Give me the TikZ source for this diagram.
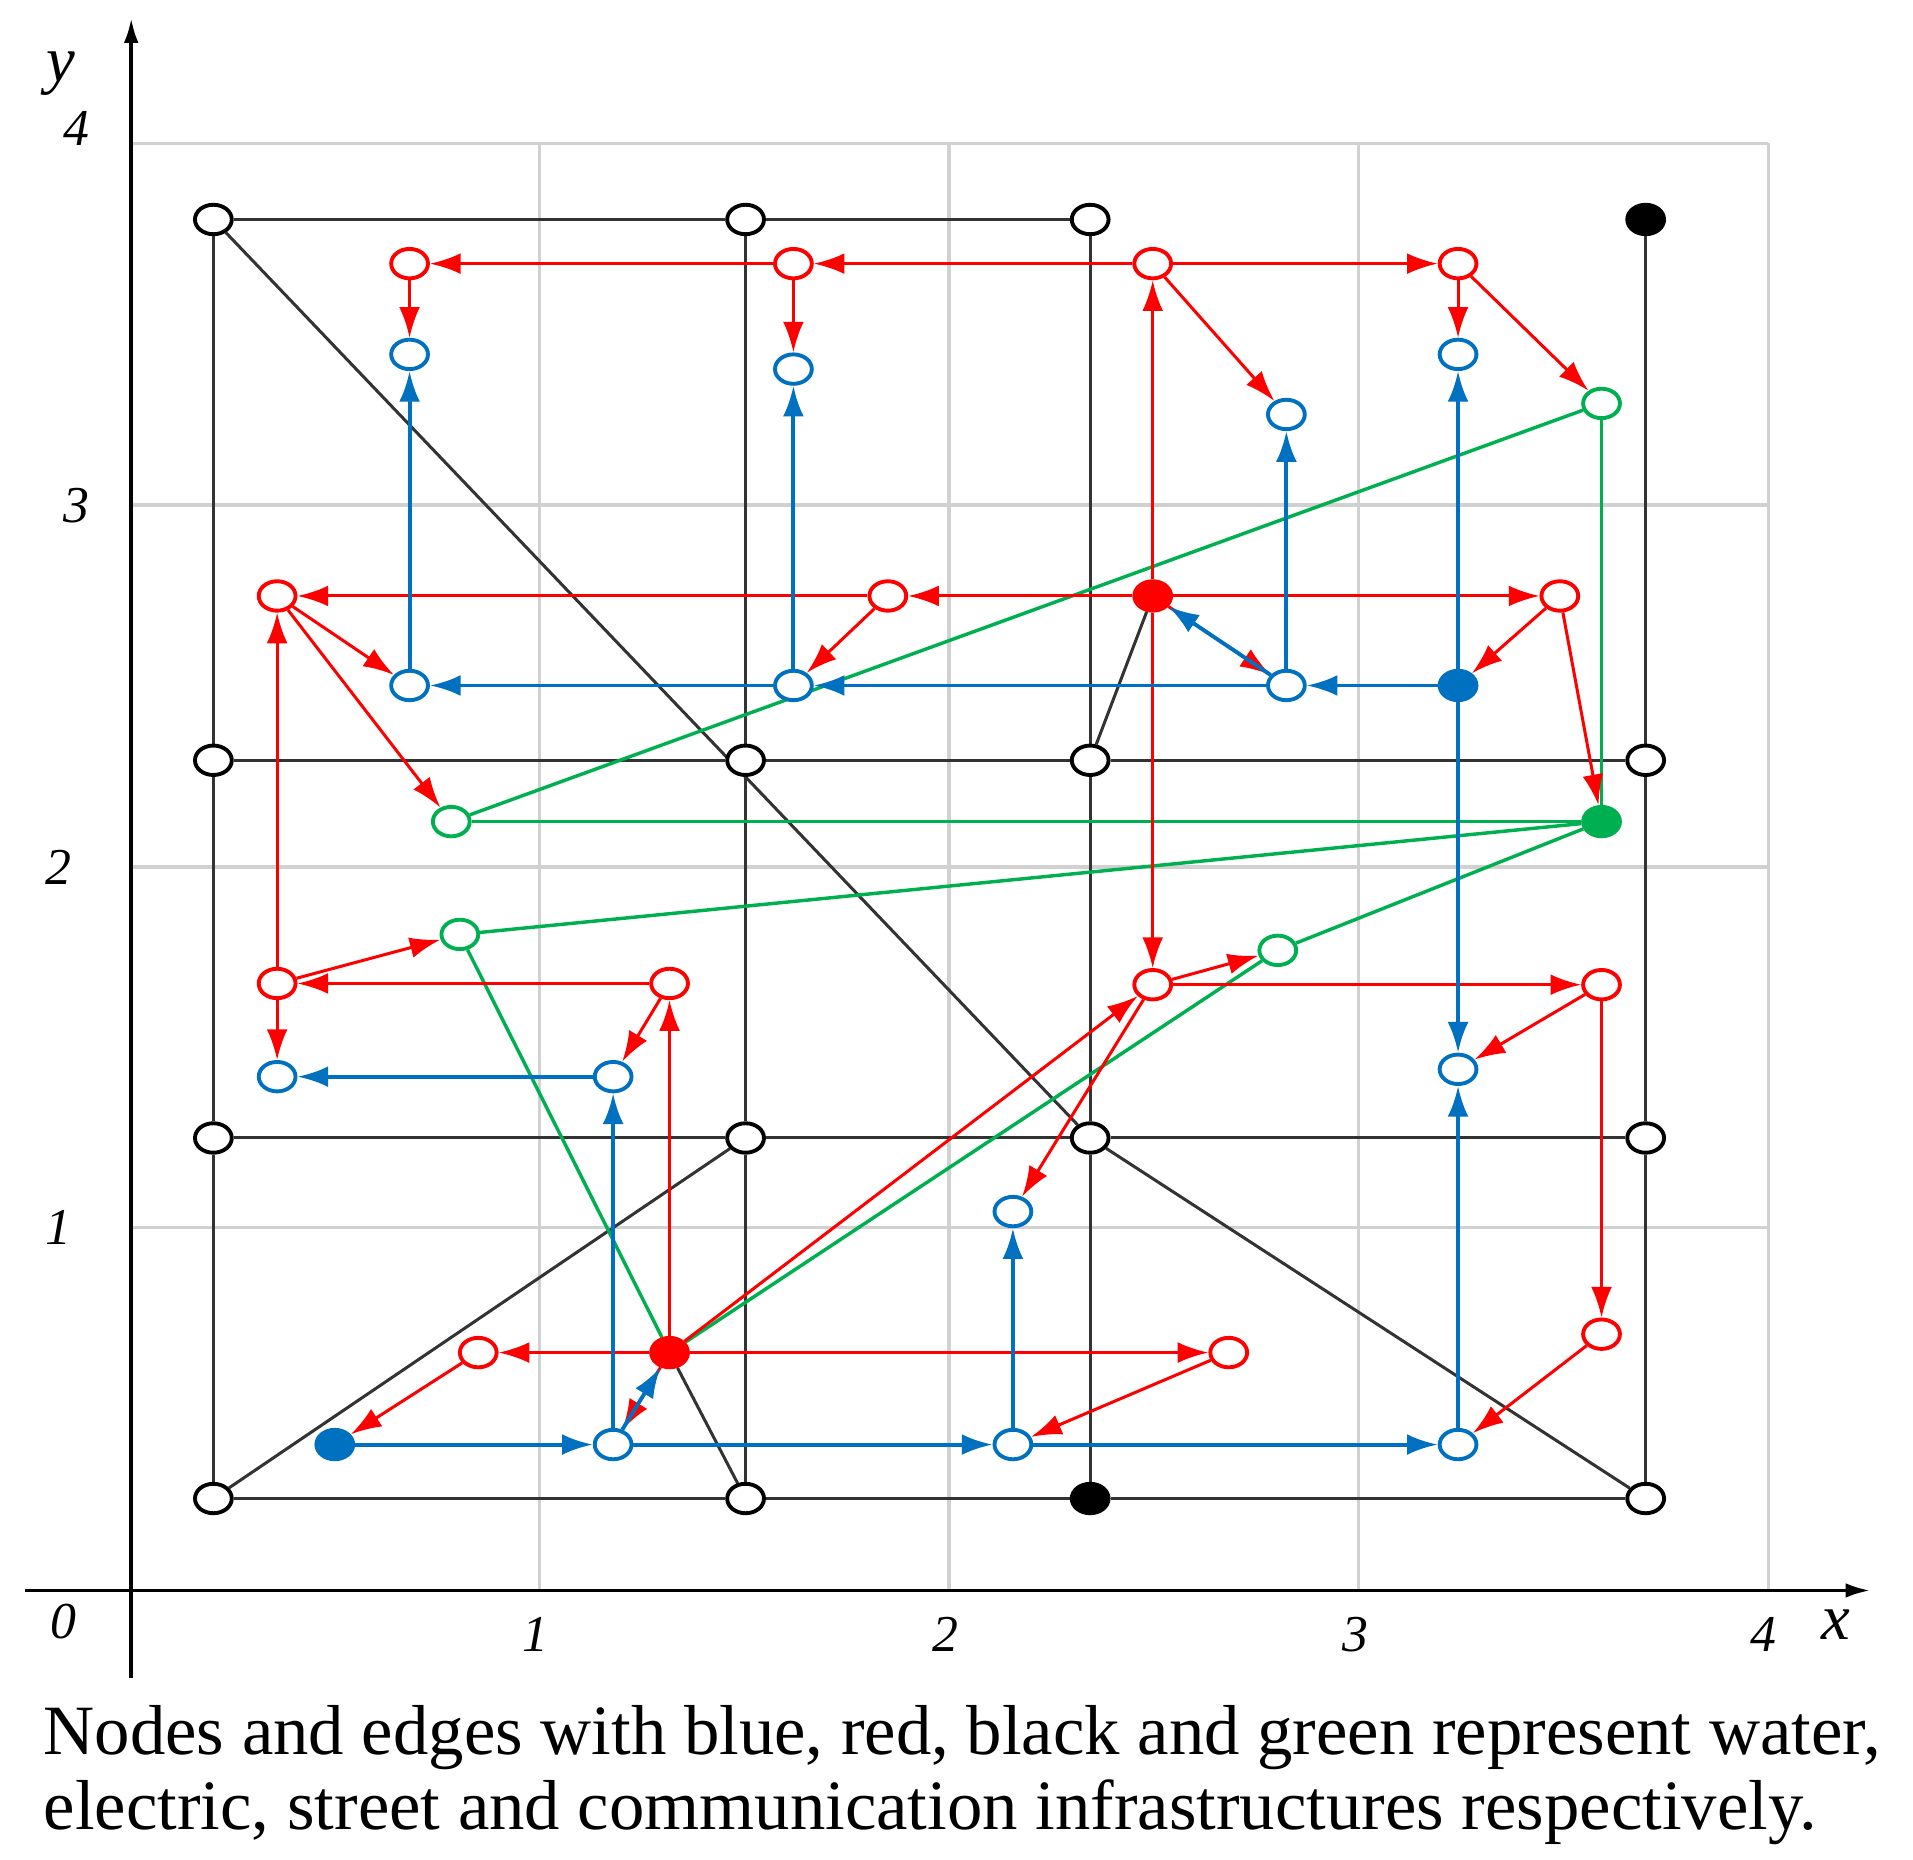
\documentclass[tikz,border=0pt]{standalone}
\usepackage{fontspec}
\setmainfont{Liberation Serif}
\usetikzlibrary{shapes.geometric,arrows.meta,backgrounds}
\begin{document}
\begin{tikzpicture}[x=0.01cm,y=-0.01cm,
 nd/.style={ellipse,draw,line width=0.9pt,fill=white,minimum width=0.3cm,minimum height=0.24cm,inner sep=0pt},
 kn/.style={nd,draw=black}, rn/.style={nd,draw=red}, bn/.style={nd,draw=wb}, gn/.style={nd,draw=gg},
 ke/.style={draw=black!80,line width=0.7pt},
 re/.style={draw=red,line width=0.7pt,-{Latex[length=0.25cm,width=0.17cm]}},
 be/.style={draw=wb,line width=0.9pt,-{Latex[length=0.25cm,width=0.17cm]}},
 ge/.style={draw=gg,line width=0.8pt},
 lab/.style={font=\itshape\fontsize{12}{12}\selectfont}]
\definecolor{wb}{RGB}{0,112,192}
\definecolor{gg}{RGB}{0,176,80}
\useasboundingbox (0,0) rectangle (1560,1516);
% axes
\coordinate (ya) at (107,1368); \coordinate (yb) at (107,15);
\coordinate (xa) at (20,1297); \coordinate (xb) at (1525,1297);
\node[lab] at (62,105) {4}; \node[lab] at (62,412) {3}; \node[lab] at (48,707) {2};
\node[lab] at (48,1001) {1}; \node[lab] at (52,1322) {0};
\node[lab] at (437,1333) {1}; \node[lab] at (771,1333) {2}; \node[lab] at (1105,1333) {3};
\node[lab] at (1438,1333) {4};
\node[lab,font=\itshape\fontsize{15}{15}\selectfont] at (1497,1325) {x};
\node[lab,font=\itshape\fontsize{15}{15}\selectfont] at (50,60) {y};
% street nodes
\node[kn] (k1) at (174,179) {}; \node[kn] (k2) at (608,179) {}; \node[kn] (k3) at (889,179) {};
\node[kn,fill=black] (k4) at (1342,179) {};
\node[kn] (k5) at (174,620) {}; \node[kn] (k6) at (608,620) {}; \node[kn] (k7) at (889,620) {}; \node[kn] (k8) at (1342,620) {};
\node[kn] (k9) at (174,928) {}; \node[kn] (k10) at (608,928) {}; \node[kn] (k11) at (889,928) {}; \node[kn] (k12) at (1342,928) {};
\node[kn] (k13) at (174,1222) {}; \node[kn] (k14) at (608,1222) {}; \node[kn,fill=black] (k15) at (889,1222) {}; \node[kn] (k16) at (1342,1222) {};
% red nodes
\node[rn] (r1) at (334,215) {}; \node[rn] (r2) at (647,215) {}; \node[rn] (r3) at (940,215) {}; \node[rn] (r4) at (1189,215) {};
\node[rn] (r5) at (226,486) {}; \node[rn] (r6) at (724,486) {}; \node[rn,fill=red] (r7) at (940,486) {}; \node[rn] (r8) at (1272,486) {};
\node[rn] (r9) at (226,802) {}; \node[rn] (r10) at (546,802) {}; \node[rn] (r11) at (940,803) {}; \node[rn] (r12) at (1306,803) {};
\node[rn] (r13) at (390,1103) {}; \node[rn,fill=red] (r14) at (546,1103) {}; \node[rn] (r15) at (1002,1103) {}; \node[rn] (r16) at (1306,1088) {};
% blue nodes
\node[bn] (b1) at (334,289) {}; \node[bn] (b2) at (647,301) {}; \node[bn] (b3) at (1049,338) {}; \node[bn] (b4) at (1189,289) {};
\node[bn] (b5) at (334,559) {}; \node[bn] (b6) at (647,559) {}; \node[bn] (b7) at (1049,559) {}; \node[bn,fill=wb] (b8) at (1189,559) {};
\node[bn] (b9) at (226,878) {}; \node[bn] (b10) at (500,878) {}; \node[bn] (b11) at (1189,872) {}; \node[bn] (b12) at (826,988) {};
\node[bn,fill=wb] (b0) at (273,1178) {}; \node[bn] (b13) at (500,1178) {}; \node[bn] (b14) at (826,1178) {}; \node[bn] (b15) at (1189,1178) {};
% green nodes
\node[gn] (g1) at (1306,329) {}; \node[gn] (g2) at (368,670) {}; \node[gn,fill=gg] (g3) at (1306,670) {};
\node[gn] (g4) at (375,762) {}; \node[gn] (g5) at (1042,775) {};
\begin{scope}[on background layer]
% grid
\foreach \x in {440,774,1108,1442} \draw[black!18,line width=0.8pt] (\x,117) -- (\x,1297);
\foreach \y in {117,412,707,1001} \draw[black!18,line width=0.8pt] (107,\y) -- (1442,\y);
\draw[line width=0.8pt,-{Latex[length=0.2cm,width=0.12cm]}] (ya) -- (yb);
\draw[line width=0.8pt,-{Latex[length=0.2cm,width=0.12cm]}] (xa) -- (xb);
% street edges
\draw[ke] (k1) -- (k2); \draw[ke] (k2) -- (k3);
\draw[ke] (k1) -- (k5) -- (k9) -- (k13);
\draw[ke] (k2) -- (k6) -- (k10) -- (k14);
\draw[ke] (k3) -- (k7) -- (k11) -- (k15);
\draw[ke] (k4) -- (k8) -- (k12) -- (k16);
\draw[ke] (k5) -- (k6) -- (k7) -- (k8);
\draw[ke] (k9) -- (k10) -- (k11) -- (k12);
\draw[ke] (k13) -- (k14) -- (k15) -- (k16);
\draw[ke] (k1) -- (k11); \draw[ke] (k11) -- (k16);
\draw[ke] (k13) -- (k10); \draw[ke] (k7) -- (r7); \draw[ke] (r14) -- (k14);
% green edges
\draw[ge] (g1) -- (g3); \draw[ge] (g1) -- (g2); \draw[ge] (g3) -- (g2);
\draw[ge] (g3) -- (g4); \draw[ge] (g3) -- (g5); \draw[ge] (g5) -- (r14); \draw[ge] (g4) -- (r14);
\end{scope}
% red edges
\draw[re] (r3) -- (r2); \draw[re] (r2) -- (r1); \draw[re] (r3) -- (r4);
\draw[re] (r1) -- (b1); \draw[re] (r2) -- (b2); \draw[re] (r4) -- (b4); \draw[re] (r3) -- (b3);
\draw[re] (r4) -- (g1); \draw[re] (r7) -- (r3); \draw[re] (r7) -- (r11);
\draw[re] (r7) -- (r6); \draw[re] (r6) -- (r5); \draw[re] (r7) -- (r8); \draw[re] (r7) -- (b7);
\draw[re] (r8) -- (b8); \draw[re] (r8) -- (g3); \draw[re] (r6) -- (b6);
\draw[re] (r5) -- (b5); \draw[re] (r5) -- (g2); \draw[re] (r9) -- (r5); \draw[re] (r9) -- (g4); \draw[re] (r9) -- (b9);
\draw[re] (r10) -- (r9); \draw[re] (r10) -- (b10); \draw[re] (r14) -- (r10);
\draw[re] (r14) -- (r13); \draw[re] (r14) -- (r15); \draw[re] (r13) -- (b0); \draw[re] (r14) -- (b13);
\draw[re] (r14) -- (r11); \draw[re] (r11) -- (g5); \draw[re] (r11) -- (r12); \draw[re] (r11) -- (b12);
\draw[re] (r12) -- (b11); \draw[re] (r12) -- (r16); \draw[re] (r16) -- (b15); \draw[re] (r15) -- (b14);
% blue edges
\draw[be] (b5) -- (b1); \draw[be] (b6) -- (b2); \draw[be] (b7) -- (b3); \draw[be] (b8) -- (b4);
\draw[be] (b8) -- (b7); \draw[be] (b7) -- (b6); \draw[be] (b6) -- (b5); \draw[be] (b7) -- (r7);
\draw[be] (b8) -- (b11); \draw[be] (b15) -- (b11); \draw[be] (b10) -- (b9); \draw[be] (b13) -- (b10);
\draw[be] (b0) -- (b13); \draw[be] (b13) -- (b14); \draw[be] (b14) -- (b15); \draw[be] (b14) -- (b12);
\draw[be] (b13) -- (r14);
% caption
\node[anchor=north west,align=left,inner sep=0pt,font=\fontsize{16.4}{17.3}\selectfont] (cap) at (35,1390)
 {Nodes and edges with blue, red, black and green represent water,\\electric, street and communication infrastructures respectively.};
\end{tikzpicture}
\end{document}
